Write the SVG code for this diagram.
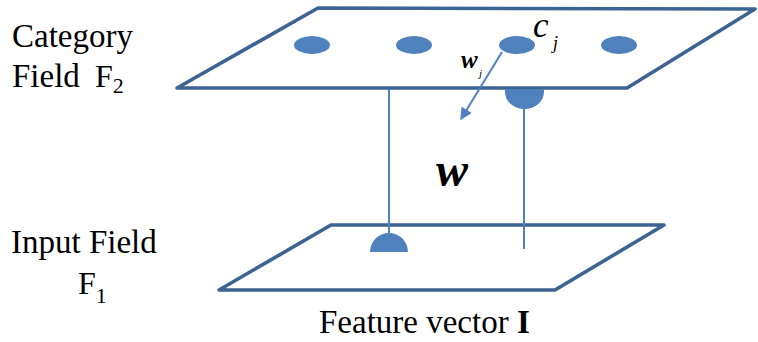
<svg xmlns="http://www.w3.org/2000/svg" width="758" height="342" viewBox="0 0 758 342">
  <style>
    .plane { fill: #ffffff; stroke: #3d6392; stroke-width: 3.6; stroke-linejoin: round; }
    .node { fill: #4f81bd; }
    .link { stroke: #4f81bd; stroke-width: 2; fill: none; }
    .lbl { fill: #000; font-family: "Liberation Serif", "Times New Roman", serif; }
    .it { font-style: italic; }
  </style>
  <defs>
    <marker id="head" viewBox="0 0 10 10" refX="9" refY="5" markerWidth="6.5" markerHeight="6" orient="auto" markerUnits="strokeWidth">
      <path d="M0,0 L10,5 L0,10 z" fill="#4f81bd"/>
    </marker>
  </defs>

  <rect width="758" height="342" fill="#ffffff"/>

  <!-- F1 input plane -->
  <g id="input-field">
    <polygon class="plane" points="331,225 664,225 555,290 219,290"/>
    <path class="node" d="M370,252 A19,19 0 0 1 408,252 Z"/>
    <text class="lbl" x="11" y="253" font-size="33">Input Field</text>
    <text class="lbl" x="78" y="294" font-size="32">F<tspan font-size="22" dy="9">1</tspan></text>
    <text class="lbl" x="319" y="333" font-size="33">Feature vector <tspan font-weight="bold">I</tspan></text>
  </g>

  <!-- F2 category plane -->
  <g id="category-field">
    <polygon class="plane" points="318,8 755,9 627,88 177,88"/>
    <ellipse class="node" cx="312" cy="45" rx="18" ry="9"/>
    <ellipse class="node" cx="414" cy="45" rx="18" ry="9"/>
    <ellipse class="node" cx="517" cy="45" rx="18" ry="9"/>
    <ellipse class="node" cx="619" cy="45" rx="18" ry="9"/>
    <path class="node" d="M505,89 L544,89 L544,92 A19.5,17 0 0 1 505,92 Z"/>
    <text class="lbl" x="12" y="47" font-size="33">Category</text>
    <text class="lbl" x="12" y="87" font-size="33">Field</text>
    <text class="lbl" x="95" y="87" font-size="32">F<tspan font-size="22" dy="6">2</tspan></text>
    <text class="lbl it" x="533" y="37" font-size="35">c</text>
    <text class="lbl it" x="553" y="49" font-size="18">j</text>
  </g>

  <!-- connectors -->
  <g id="connectors">
    <line class="link" x1="389" y1="89" x2="389" y2="234"/>
    <line class="link" x1="524" y1="105" x2="524" y2="249"/>
    <line class="link" x1="502" y1="52" x2="461" y2="119" marker-end="url(#head)"/>
    <text class="lbl it" x="461" y="68" font-size="25" font-weight="bold">w</text>
    <text class="lbl it" x="479" y="77" font-size="11">j</text>
    <text class="lbl it" x="436" y="186" font-size="48" font-weight="bold">w</text>
  </g>
</svg>
